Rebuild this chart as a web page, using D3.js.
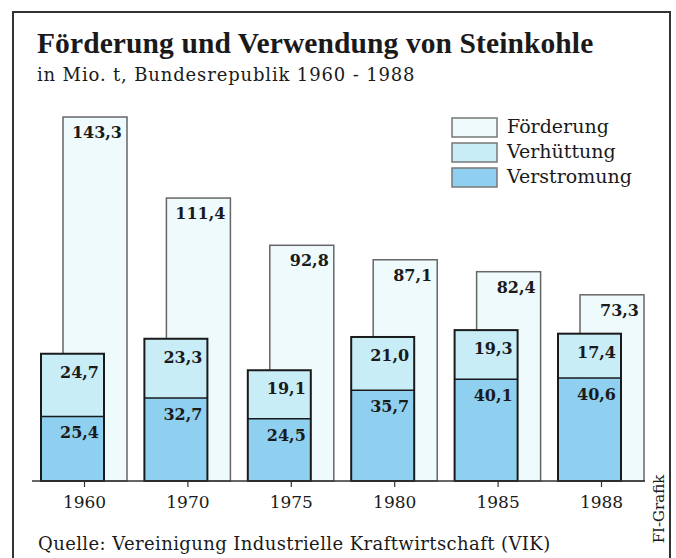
<!DOCTYPE html>
<html>
<head>
<meta charset="utf-8">
<script src="https://cdn.jsdelivr.net/npm/d3@7"></script>
<style>
  body { margin: 0; background: #fff; }
  svg text { font-family: "DejaVu Serif", serif; fill: #1a1a1a; }
</style>
</head>
<body>
<div id="chart-container"></div>
<script>
// Steinkohle, Mio. t
const years = ['1960', '1970', '1975', '1980', '1985', '1988']
const foerderung = [143.3, 111.4, 92.8, 87.1, 82.4, 73.3]
const verhuettung = [24.7, 23.3, 19.1, 21.0, 19.3, 17.4]
const verstromung = [25.4, 32.7, 24.5, 35.7, 40.1, 40.6]
const legendLabels = ['Förderung', 'Verhüttung', 'Verstromung']

const width = 676, height = 558
const colors = { foerd: '#eefafb', verh: '#c9edf7', verst: '#8fd0f0' }
const fmt = v => v.toFixed(1).replace('.', ',')

const svg = d3.select('#chart-container')
    .append('svg')
    .attr('width', width)
    .attr('height', height)

// frame
svg.append('rect')
    .attr('x', 13).attr('y', 12)
    .attr('width', 657).attr('height', 580)
    .attr('fill', 'none')
    .attr('stroke', '#333')
    .attr('stroke-width', 2)

svg.append('text')
    .attr('x', 37).attr('y', 53)
    .style('font-family', '"Liberation Serif", serif')
    .style('font-weight', 'bold')
    .style('font-size', '29.5px')
    .style('letter-spacing', '0.1px')
    .text('Förderung und Verwendung von Steinkohle')

svg.append('text')
    .attr('x', 37).attr('y', 81)
    .style('font-size', '18px')
    .style('letter-spacing', '0.85px')
    .text('in Mio. t, Bundesrepublik 1960 - 1988')

const x = d3.scalePoint().domain(years).range([84, 601])
const y = d3.scaleLinear().domain([0, 150]).range([481, 100])

const data = years.map((yr, i) => ({
    yr, f: foerderung[i], h: verhuettung[i], s: verstromung[i]
}))

const g = svg.append('g')

// Förderung bars (behind)
g.selectAll('.foerd').data(data).join('rect')
    .attr('class', 'foerd')
    .attr('x', d => x(d.yr) - 21)
    .attr('y', d => y(d.f))
    .attr('width', 64)
    .attr('height', d => y(0) - y(d.f))
    .attr('fill', colors.foerd)
    .attr('stroke', '#666')
    .attr('stroke-width', 1.5)

// stacked: Verstromung at bottom, Verhüttung above
g.selectAll('.verst').data(data).join('rect')
    .attr('class', 'verst')
    .attr('x', d => x(d.yr) - 43)
    .attr('y', d => y(d.s))
    .attr('width', 63)
    .attr('height', d => y(0) - y(d.s))
    .attr('fill', colors.verst)

g.selectAll('.verh').data(data).join('rect')
    .attr('class', 'verh')
    .attr('x', d => x(d.yr) - 43)
    .attr('y', d => y(d.s + d.h))
    .attr('width', 63)
    .attr('height', d => y(d.s) - y(d.s + d.h))
    .attr('fill', colors.verh)

// outline + divider
g.selectAll('.outline').data(data).join('rect')
    .attr('class', 'outline')
    .attr('x', d => x(d.yr) - 43)
    .attr('y', d => y(d.s + d.h))
    .attr('width', 63)
    .attr('height', d => y(0) - y(d.s + d.h))
    .attr('fill', 'none')
    .attr('stroke', '#1a1a1a')
    .attr('stroke-width', 2)

g.selectAll('.divider').data(data).join('line')
    .attr('class', 'divider')
    .attr('x1', d => x(d.yr) - 43)
    .attr('x2', d => x(d.yr) + 20)
    .attr('y1', d => y(d.s))
    .attr('y2', d => y(d.s))
    .attr('stroke', '#1a1a1a')
    .attr('stroke-width', 1.5)

// value labels
const valStyle = sel => sel
    .attr('text-anchor', 'end')
    .style('font-weight', 'bold')
    .style('font-size', '16px')

g.selectAll('.lf').data(data).join('text')
    .attr('class', 'lf')
    .attr('x', d => x(d.yr) + 38)
    .attr('y', d => y(d.f) + 21)
    .call(valStyle)
    .text(d => fmt(d.f))

g.selectAll('.lh').data(data).join('text')
    .attr('class', 'lh')
    .attr('x', d => x(d.yr) + 15)
    .attr('y', d => y(d.s + d.h) + 24)
    .call(valStyle)
    .text(d => fmt(d.h))

g.selectAll('.ls').data(data).join('text')
    .attr('class', 'ls')
    .attr('x', d => x(d.yr) + 15)
    .attr('y', d => y(d.s) + 22)
    .call(valStyle)
    .text(d => fmt(d.s))

// axis
const xAxis = svg.append('g')
    .attr('transform', `translate(0, ${y(0)})`)
    .call(d3.axisBottom(x).tickSize(6).tickSizeOuter(0))
xAxis.select('.domain').remove()
xAxis.append('line')
    .attr('x1', 32).attr('x2', 645)
    .attr('stroke', '#333').attr('stroke-width', 1.5)
xAxis.selectAll('.tick line').attr('stroke', '#333').attr('stroke-width', 1.2)
xAxis.selectAll('.tick text')
    .attr('y', 15)
    .style('font-family', '"DejaVu Serif", serif')
    .style('font-size', '17px')
    .attr('fill', '#1a1a1a')

// legend
const legendFills = [colors.foerd, colors.verh, colors.verst]
const legend = svg.append('g').attr('transform', 'translate(452, 118)')
legendLabels.forEach((lab, i) => {
    legend.append('rect')
        .attr('x', 0).attr('y', i * 25)
        .attr('width', 45).attr('height', 19)
        .attr('fill', legendFills[i])
        .attr('stroke', '#777')
        .attr('stroke-width', 1.5)
    legend.append('text')
        .attr('x', 55).attr('y', i * 25 + 15)
        .style('font-size', '19px')
        .text(lab)
})

svg.append('text')
    .attr('x', 38).attr('y', 550)
    .style('font-size', '18px')
    .style('letter-spacing', '0.4px')
    .text('Quelle: Vereinigung Industrielle Kraftwirtschaft (VIK)')

svg.append('text')
    .attr('transform', 'translate(664, 509) rotate(-90)')
    .attr('text-anchor', 'middle')
    .style('font-size', '15px')
    .text('FI-Grafik')
</script>
</body>
</html>
